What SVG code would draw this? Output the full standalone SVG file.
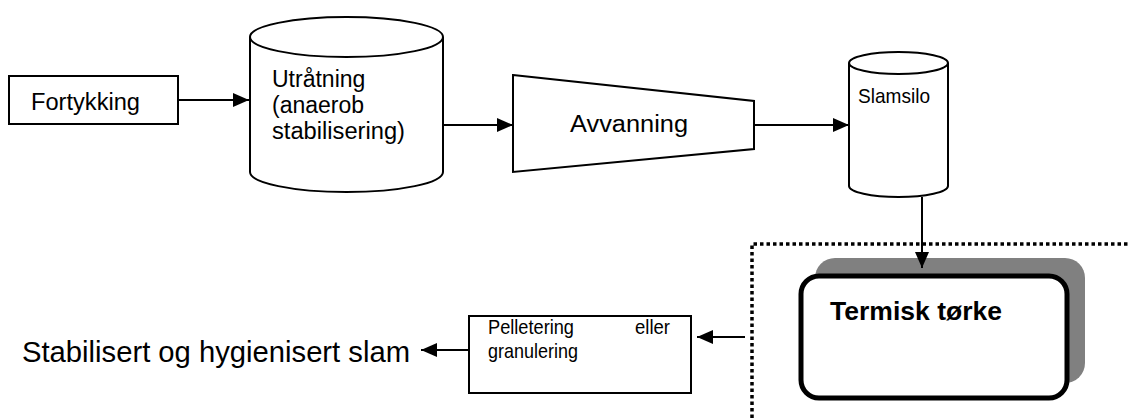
<svg xmlns="http://www.w3.org/2000/svg" width="1129" height="418" viewBox="0 0 1129 418">
  <style>
    .shape { fill: #ffffff; stroke: #000000; stroke-width: 2; }
    .edge { fill: none; stroke: #000000; stroke-width: 2; }
    .label { font-family: "Liberation Sans", Arial, sans-serif; font-size: 23px; fill: #000000; }
    .small { font-size: 21px; }
    .narrow { font-family: "Liberation Sans Narrow", "Liberation Sans", Arial, sans-serif; fill: #000000; }
    .bold { font-family: "Liberation Sans", Arial, sans-serif; font-size: 25px; font-weight: bold; fill: #000000; }
    .boundary { fill: none; stroke: #000000; stroke-width: 3.5; stroke-dasharray: 3.5 3; }
  </style>
  <defs>
    <marker id="arrow" viewBox="0 0 16 14" refX="16" refY="7" markerWidth="16" markerHeight="14" markerUnits="userSpaceOnUse" orient="auto">
      <path d="M0,0 L16,7 L0,14 Z" fill="#000000"/>
    </marker>
  </defs>

  <!-- plant boundary around the drying step -->
  <g id="boundary">
    <path class="boundary" d="M752,418 L752,244 L1129,244"/>
  </g>

  <g id="fortykking">
    <rect class="shape" x="9" y="76" width="169" height="48"/>
    <text class="label" x="31" y="110" textLength="109" lengthAdjust="spacingAndGlyphs">Fortykking</text>
  </g>

  <g id="utratning">
    <path class="shape" d="M250,37 L250,172 A96.5,20 0 0 0 443,172 L443,37 A96.5,20 0 0 0 250,37 Z"/>
    <path class="edge" d="M250,37 A96.5,20 0 0 0 443,37"/>
    <text class="label" x="272" y="87">Utråtning</text>
    <text class="label" x="272" y="113">(anaerob</text>
    <text class="label" x="272" y="139" textLength="133" lengthAdjust="spacingAndGlyphs">stabilisering)</text>
  </g>

  <g id="avvanning">
    <path class="shape" d="M513,75 L754,101 L754,149 L513,172 Z"/>
    <text class="label" x="570" y="132" textLength="118" lengthAdjust="spacingAndGlyphs">Avvanning</text>
  </g>

  <g id="slamsilo">
    <path class="shape" d="M849,63 L849,186 A49.5,11 0 0 0 948,186 L948,63 A49.5,11 0 0 0 849,63 Z"/>
    <path class="edge" d="M849,63 A49.5,11 0 0 0 948,63"/>
    <text class="label small" x="858" y="103" textLength="72" lengthAdjust="spacingAndGlyphs">Slamsilo</text>
  </g>

  <g id="termisk-torke">
    <rect x="815" y="258" width="270" height="125" rx="20" fill="#808080"/>
    <rect x="801" y="276" width="266" height="122" rx="18" fill="#ffffff" stroke="#000000" stroke-width="5"/>
    <text class="bold" x="830" y="320" textLength="172" lengthAdjust="spacingAndGlyphs">Termisk tørke</text>
  </g>

  <g id="pelletering">
    <rect class="shape" x="469" y="316" width="222" height="77"/>
    <text class="narrow" x="488" y="334" font-size="21" textLength="86" lengthAdjust="spacingAndGlyphs">Pelletering</text>
    <text class="narrow" x="670" y="334" font-size="21" text-anchor="end" textLength="35" lengthAdjust="spacingAndGlyphs">eller</text>
    <text class="narrow" x="488" y="358" font-size="21" textLength="90" lengthAdjust="spacingAndGlyphs">granulering</text>
  </g>

  <g id="sluttprodukt">
    <text class="narrow" x="22" y="362" font-size="30" textLength="388" lengthAdjust="spacingAndGlyphs">Stabilisert og hygienisert slam</text>
  </g>

  <g id="connectors">
    <path class="edge" d="M178,100 L249,100" marker-end="url(#arrow)"/>
    <path class="edge" d="M443,125 L513,125" marker-end="url(#arrow)"/>
    <path class="edge" d="M754,125 L849,125" marker-end="url(#arrow)"/>
    <path class="edge" d="M922,197 L922,268" marker-end="url(#arrow)"/>
    <path class="edge" d="M745,337 L697,337" marker-end="url(#arrow)"/>
    <path class="edge" d="M469,350 L421,350" marker-end="url(#arrow)"/>
  </g>
</svg>
